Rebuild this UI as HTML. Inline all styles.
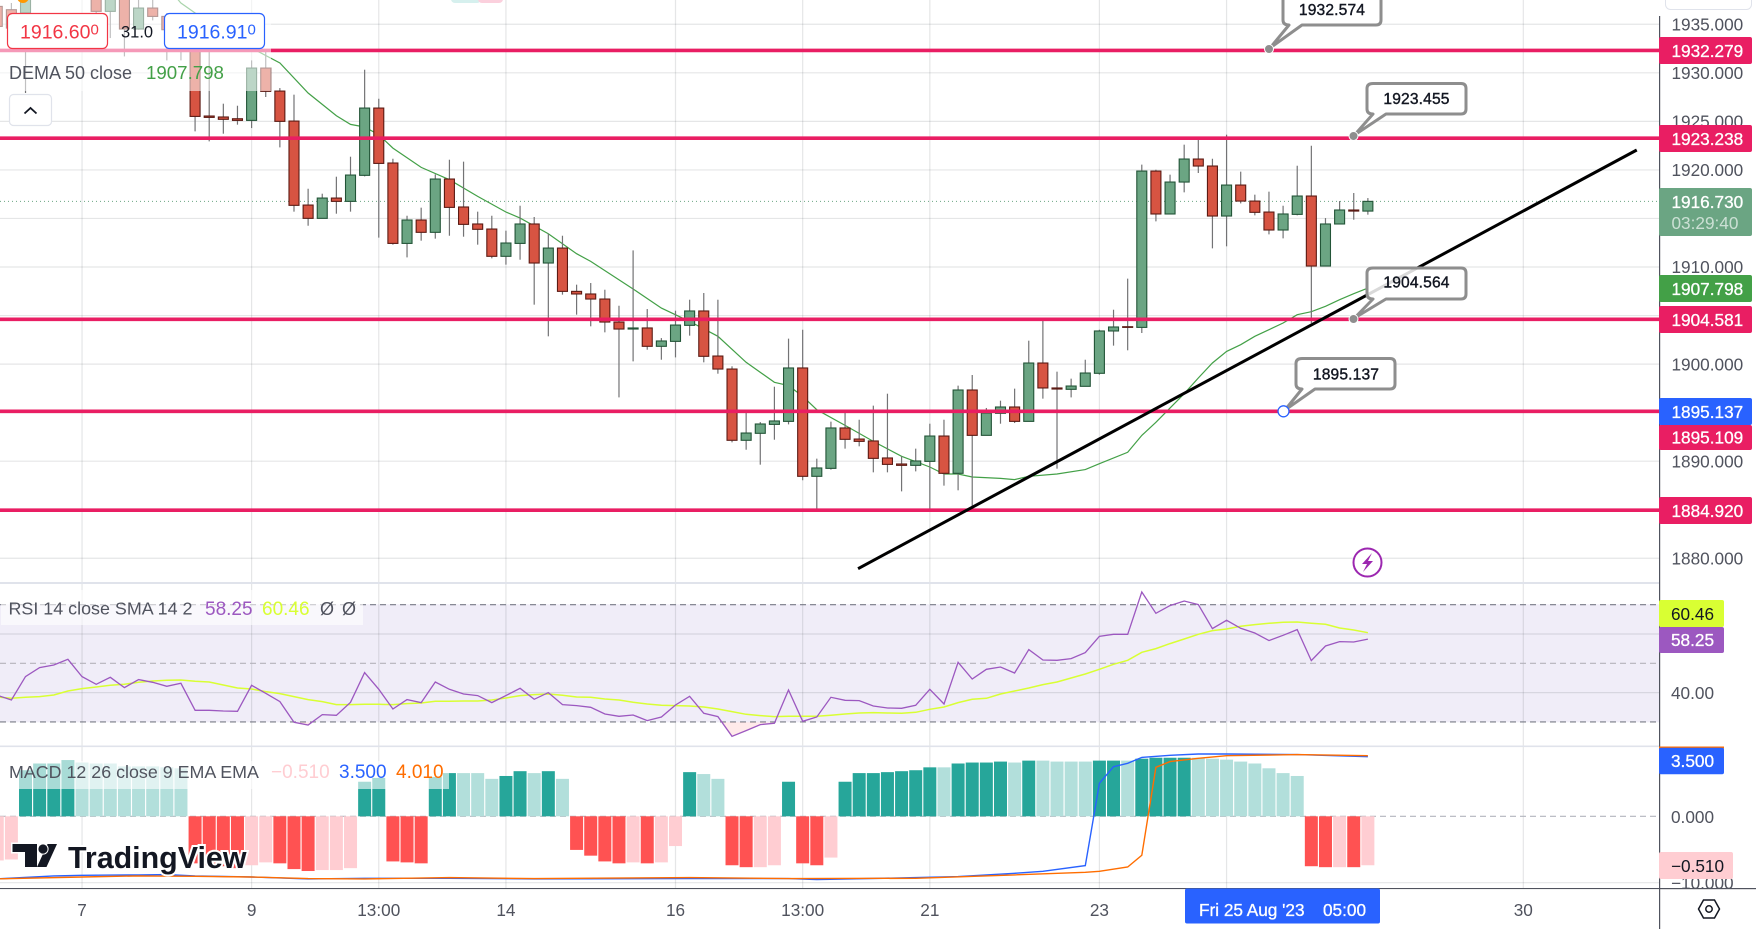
<!DOCTYPE html>
<html lang="en">
<head>
<meta charset="utf-8">
<title>Gold chart recreation</title>
<style>
html,body{margin:0;padding:0;background:#fff;width:1756px;height:929px;overflow:hidden}
svg{display:block;position:absolute;left:0;top:0}
text{font-family:"Liberation Sans",sans-serif;font-size:17.2px}
.callout-text{font-size:15.6px;letter-spacing:.15px;stroke:#131722;stroke-width:.4px}
.price-label{stroke:#fff;stroke-width:.3px}
</style>
</head>
<body>
<svg id="chart" width="1756" height="929" viewBox="0 0 1756 929" xmlns="http://www.w3.org/2000/svg">
<defs>
<clipPath id="mainClip"><rect x="0" y="0" width="1659" height="582"/></clipPath>
<clipPath id="rsiClip"><rect x="0" y="584" width="1659" height="162"/></clipPath>
<clipPath id="macdClip"><rect x="0" y="747" width="1659" height="141"/></clipPath>
<clipPath id="overSoldClip"><rect x="0" y="722.3" width="1659" height="24"/></clipPath>
</defs>
<rect width="1756" height="929" fill="#fff"/>
<rect x="0" y="604.3" width="1659" height="118" fill="#f0edf8"/>
<g id="grid"></g>
<g id="mainLayer" clip-path="url(#mainClip)"></g>
<g id="rsiLayer" clip-path="url(#rsiClip)"></g>
<g id="macdLayer" clip-path="url(#macdClip)"></g>

<!-- pane separators -->
<rect x="0" y="582" width="1756" height="2" fill="#e0e3eb"/>
<rect x="0" y="745.5" width="1756" height="1.6" fill="#e0e3eb"/>

<!-- logo -->
<g>
<path d="M12.5 844H37V867H25V852H12.5Z M57 844H47.5L37 867H46.5Z" fill="#131722" stroke="#fff" stroke-width="3" paint-order="stroke"/>
<circle cx="43" cy="849" r="4.6" fill="#131722" stroke="#fff" stroke-width="2" paint-order="stroke"/>
<text x="68" y="868" style="font-size:30.4px;font-weight:700" fill="#131722" stroke="#fff" stroke-width="4" paint-order="stroke">TradingView</text>
</g>

<!-- legend overlays -->
<rect x="0" y="0" width="271" height="91" fill="#fff" fill-opacity="0.55"/>
<rect x="1" y="590" width="362" height="35" fill="#fff" fill-opacity="0.6"/>
<rect x="0" y="761" width="449" height="28" fill="#fff" fill-opacity="0.6"/>

<!-- top strays -->
<circle cx="23" cy="-3" r="6" fill="#ff9800"/>
<rect x="451" y="-6" width="30" height="9" rx="4" fill="#d6f0ee"/>
<rect x="478" y="-6" width="25" height="9" rx="4" fill="#fbd0dd"/>

<!-- trade buttons -->
<rect x="7.5" y="13.5" width="100" height="35" rx="5" fill="#fff" stroke="#f23645" stroke-width="1.2"/>
<text x="20" y="38.5" style="font-size:19.5px" fill="#f23645">1916.60<tspan dy="-4" style="font-size:15px">0</tspan></text>
<text x="121" y="37.5" style="font-size:16.5px" fill="#131722">31.0</text>
<rect x="164.5" y="13.5" width="100" height="35" rx="5" fill="#fff" stroke="#2962ff" stroke-width="1.2"/>
<text x="177" y="38.5" style="font-size:19.5px" fill="#2962ff">1916.91<tspan dy="-4" style="font-size:15px">0</tspan></text>

<!-- legends -->
<text x="9" y="79" style="font-size:18px" fill="#50535e">DEMA 50 close</text>
<text x="146" y="79" style="font-size:18.7px" fill="#43a047">1907.798</text>
<rect x="9.5" y="94.5" width="42" height="31" rx="4" fill="#fff" stroke="#e0e3eb" stroke-width="1.2"/>
<path d="M24.5 113.5L30.5 108L36.5 113.5" fill="none" stroke="#131722" stroke-width="1.8"/>

<text x="8.5" y="614.5" style="font-size:17.9px" fill="#50535e">RSI 14 close SMA 14 2</text>
<text x="205" y="615" style="font-size:19px" fill="#9c58c0">58.25</text>
<text x="262" y="615" style="font-size:19px" fill="#d9ff33">60.46</text>
<text x="320" y="615" style="font-size:18px" fill="#50535e">Ø</text>
<text x="342" y="615" style="font-size:18px" fill="#50535e">Ø</text>

<text x="9" y="778" style="font-size:17.85px" fill="#50535e">MACD 12 26 close 9 EMA EMA</text>
<text x="271" y="778" style="font-size:19px" fill="#ffcdd2">−0.510</text>
<text x="339" y="778" style="font-size:19px" fill="#2962ff">3.500</text>
<text x="396" y="778" style="font-size:19px" fill="#ff6d00">4.010</text>

<!-- callouts -->
<g>
<g>
<path d="M1289 -6H1376Q1381 -6 1381 -1V20Q1381 25 1376 25H1302L1270 48L1289 25Q1283 25 1283 20V-1Q1283 -6 1289 -6Z" fill="#fff" stroke="#8e8e8e" stroke-width="3" stroke-linejoin="round"/>
<circle cx="1269" cy="49" r="4.5" fill="#8e8e8e" stroke="#fff"/>
<text x="1332" y="15" text-anchor="middle" fill="#131722" class="callout-text">1932.574</text>
</g>
<g>
<path d="M1373 83.5H1461Q1466 83.5 1466 88.5V109Q1466 114 1461 114H1386L1354.5 135L1373 114Q1367 114 1367 109V88.5Q1367 83.5 1373 83.5Z" fill="#fff" stroke="#8e8e8e" stroke-width="3" stroke-linejoin="round"/>
<circle cx="1353.5" cy="136" r="4.5" fill="#8e8e8e" stroke="#fff"/>
<text x="1416.5" y="104" text-anchor="middle" fill="#131722" class="callout-text">1923.455</text>
</g>
<g>
<path d="M1373 268H1461Q1466 268 1466 273V294Q1466 299 1461 299H1386L1354.5 318L1373 299Q1367 299 1367 294V273Q1367 268 1373 268Z" fill="#fff" fill-opacity="0.85" stroke="#8e8e8e" stroke-width="3" stroke-linejoin="round"/>
<circle cx="1353.5" cy="319" r="4.5" fill="#8e8e8e" stroke="#fff"/>
<text x="1416.5" y="287.5" text-anchor="middle" fill="#131722" class="callout-text">1904.564</text>
</g>
<g>
<path d="M1302 358.5H1390Q1395 358.5 1395 363.5V384Q1395 389 1390 389H1315L1285 410L1302 389Q1296 389 1296 384V363.5Q1296 358.5 1302 358.5Z" fill="#fff" stroke="#8e8e8e" stroke-width="3" stroke-linejoin="round"/>
<circle cx="1283.5" cy="411.3" r="5.5" fill="#fff" stroke="#2962ff" stroke-width="1.3"/>
<text x="1346" y="379.3" text-anchor="middle" fill="#131722" class="callout-text">1895.137</text>
</g>
</g>

<!-- alert icon -->
<g>
<circle cx="1367.5" cy="562.5" r="14" fill="#fff" stroke="#9c27b0" stroke-width="2"/>
<path d="M1372 553L1362 564H1367L1363 572L1373 561H1368Z" fill="#9c27b0"/>
</g>

<!-- axes -->
<rect x="1660" y="0" width="96" height="888" fill="#fff"/>
<rect x="1665.5" y="-8" width="86" height="17.5" rx="5" fill="#fff" stroke="#e0e3eb"/>
<g id="axisTicks"></g>
<rect x="1659" y="16" width="1.2" height="913" fill="#50535e"/>
<rect x="0" y="888" width="1756" height="1.2" fill="#50535e"/>
<rect x="0" y="889.2" width="1659" height="40" fill="#fff"/>
<g id="timeTicks"></g>

<!-- crosshair date -->
<rect x="1185" y="888.5" width="195" height="35" rx="2" fill="#2962ff"/>
<text x="1199" y="916" fill="#fff" class="price-label">Fri 25 Aug '23</text>
<text x="1323" y="916" fill="#fff" class="price-label">05:00</text>

<!-- price labels -->
<g>
<rect x="1659" y="37" width="93" height="27" rx="2" fill="#e91e63"/>
<text x="1671.5" y="57" fill="#fff" class="price-label">1932.279</text>
<rect x="1659" y="125" width="93" height="27" rx="2" fill="#e91e63"/>
<text x="1671.5" y="145" fill="#fff" class="price-label">1923.238</text>
<rect x="1659" y="188" width="93" height="48" rx="2" fill="#6ba583"/>
<text x="1671.5" y="208" fill="#fff" class="price-label">1916.730</text>
<text x="1671.5" y="229" fill="#fff" fill-opacity="0.65">03:29:40</text>
<rect x="1659" y="275" width="93" height="27" rx="2" fill="#43a047"/>
<text x="1671.5" y="295" fill="#fff" class="price-label">1907.798</text>
<rect x="1659" y="306" width="93" height="27" rx="2" fill="#e91e63"/>
<text x="1671.5" y="326" fill="#fff" class="price-label">1904.581</text>
<rect x="1659" y="425" width="93" height="25" rx="2" fill="#e91e63"/>
<text x="1671.5" y="443.5" fill="#fff" class="price-label">1895.109</text>
<rect x="1659" y="398" width="93" height="27" rx="2" fill="#2962ff"/>
<text x="1671.5" y="418" fill="#fff" class="price-label">1895.137</text>
<rect x="1659" y="497" width="93" height="27" rx="2" fill="#e91e63"/>
<text x="1671.5" y="517" fill="#fff" class="price-label">1884.920</text>

<rect x="1659" y="600" width="65" height="27" rx="2" fill="#d9ff33"/>
<text x="1671" y="620" fill="#131722">60.46</text>
<rect x="1659" y="627" width="65" height="26" rx="2" fill="#9c58c0"/>
<text x="1671" y="646" fill="#fff" class="price-label">58.25</text>

<rect x="1659" y="746.5" width="65" height="2" fill="#ff6d00"/>
<rect x="1659" y="747.7" width="65" height="26.5" rx="2" fill="#2962ff"/>
<text x="1671" y="767" fill="#fff" class="price-label">3.500</text>
<rect x="1659" y="852" width="74" height="27" rx="2" fill="#ffcdd2"/>
<text x="1671" y="872" fill="#131722">−0.510</text>
</g>

<!-- settings -->
<g fill="none" stroke="#131722" stroke-width="1.5">
<path d="M1698.5 909L1703.5 900H1714.5L1719.5 909L1714.5 918H1703.5Z"/>
<circle cx="1709" cy="909" r="3.2"/>
</g>
</svg>

<script>
// Chart data. Bars are numbered so that bar 0 sits on the "9" time tick.
const firstBar = -18;
const opens = [1936.81,1936.47,1936.13,1940,1939,1940,1939.2,1938.53,1936.30,1939.56,
1934.48,1936.64,1935.78,1934.41,1933.21,1925.52,1925.42,1925.24,1925.07,1930.46,
1928.09,1925.00,1916.35,1914.98,1917.07,1916.73,1919.41,1926.34,1920.68,1912.40,
1914.81,1913.54,1919.03,1916.15,1914.40,1913.88,1911.07,1912.40,1914.40,1910.38,
1911.92,1907.46,1907.19,1906.67,1904.30,1903.58,1903.69,1901.80,1902.31,1903.96,
1905.44,1900.80,1899.46,1892.12,1892.84,1893.76,1894.07,1899.57,1888.41,1889.23,
1893.39,1892.25,1892.05,1890.30,1889.68,1889.54,1889.95,1892.56,1888.72,1897.30,
1892.63,1894.90,1895.55,1894.07,1900.08,1897.51,1897.37,1897.68,1899.02,1903.38,
1903.82,1903.75,1919.85,1915.43,1918.72,1921.09,1920.37,1915.22,1918.41,1916.76,
1915.63,1913.78,1915.39,1917.28,1910.07,1914.40,1915.84,1915.73];
const highs = [1937.16,1937.16,1938.87,1941,1941,1941,1941,1938.87,1938.87,1939.90,
1937.50,1937.50,1936.13,1934.75,1933.55,1932.35,1926.79,1926.58,1931.25,1932.35,
1928.40,1927.72,1918.03,1917.52,1919.27,1921.33,1930.29,1927.30,1921.12,1915.25,
1916.08,1919.51,1921.02,1920.82,1915.67,1915.25,1913.71,1916.28,1915.12,1913.40,
1913.19,1908.15,1908.32,1907.63,1905.98,1911.68,1905.64,1902.65,1905.47,1906.60,
1907.29,1906.60,1899.74,1895.00,1894.00,1897.64,1902.59,1903.51,1890.23,1894.04,
1895.27,1894.24,1895.69,1896.92,1890.47,1891.26,1893.83,1894.24,1897.75,1898.84,
1895.45,1896.20,1897.44,1902.38,1904.61,1899.19,1898.47,1900.42,1903.51,1905.57,
1908.77,1920.51,1919.99,1919.48,1922.57,1923.15,1921.12,1923.60,1919.79,1917.42,
1917.73,1916.28,1920.40,1922.46,1915.01,1916.76,1917.59,1917.07];
const lows = [1934.41,1932.52,1927.89,1938.6,1938.5,1938.5,1938.5,1936.13,1933.55,1931.66,
1934.41,1935.37,1931.25,1931.25,1923.94,1922.91,1923.70,1924.63,1924.28,1927.48,
1922.29,1915.67,1914.22,1914.98,1915.46,1915.67,1919.30,1912.99,1912.27,1910.96,
1912.68,1912.89,1913.19,1913.09,1912.27,1910.86,1910.21,1910.72,1906.09,1902.83,
1907.12,1905.06,1903.86,1903.24,1896.54,1900.25,1901.45,1900.42,1900.66,1902.90,
1900.15,1898.98,1891.91,1891.15,1889.61,1892.18,1893.76,1888.00,1885.04,1889.10,
1891.26,1891.50,1888.82,1888.82,1886.86,1888.92,1885.04,1887.45,1886.97,1885.15,
1892.63,1893.83,1893.90,1894.07,1896.41,1889.20,1896.54,1897.68,1898.88,1901.87,
1901.39,1903.17,1914.67,1915.43,1917.66,1919.65,1911.89,1912.10,1916.52,1915.29,
1913.33,1912.92,1915.29,1904.20,1910.07,1914.40,1914.84,1915.36];
const closes = [1934.75,1934.58,1938.19,1939,1940,1939.2,1940.2,1936.30,1938.53,1934.48,
1936.64,1935.78,1934.41,1933.21,1925.48,1925.38,1925.18,1925.07,1930.46,1928.06,
1924.97,1916.32,1914.98,1917.07,1916.73,1919.44,1926.34,1920.64,1912.40,1914.81,
1913.54,1919.03,1916.11,1914.36,1913.85,1911.07,1912.44,1914.40,1910.38,1911.92,
1907.46,1907.19,1906.67,1904.30,1903.58,1903.69,1901.80,1902.35,1903.99,1905.44,
1900.77,1899.46,1892.12,1892.87,1893.80,1894.11,1899.57,1888.41,1889.27,1893.39,
1892.22,1892.01,1890.26,1889.64,1889.54,1889.99,1892.56,1888.72,1897.30,1892.63,
1894.93,1895.55,1894.07,1900.08,1897.51,1897.40,1897.71,1899.05,1903.38,1903.79,
1903.75,1919.85,1915.43,1918.72,1921.09,1920.37,1915.22,1918.41,1916.76,1915.60,
1913.78,1915.43,1917.28,1910.07,1914.40,1915.84,1915.73,1916.73];

const demaBars = [-6,-5,-4,0,2,4,6,7,8,9,10,12,14,16,18,19,21,23,24,27,29,31,33,35,37,38,39,40,42,44,46,48,49,50,51,53,54,55,57,59,60,62,63,64,66,67,68,69,70,71,72,73,74,75,76,77,78,79];
const demaValues = [1938.87,1937.16,1936.13,1932.52,1930.98,1927.89,1925.55,1924.66,1924.39,1923.60,1922.22,1920.23,1918.96,1917.24,1915.63,1915.01,1913.40,1911.34,1910.55,1907.70,1905.74,1904.37,1902.83,1900.15,1898.09,1897.75,1896.65,1895.27,1893.66,1892.01,1890.47,1889.37,1888.65,1888.65,1888.34,1888.20,1888.07,1888.41,1888.65,1889.10,1889.71,1890.88,1892.63,1893.97,1896.92,1898.54,1900.08,1901.28,1901.97,1902.83,1903.51,1904.20,1905.06,1905.37,1905.92,1906.60,1907.22,1907.80];

const horizontalLevels = [1932.279,1923.238,1904.581,1895.109,1884.920];
const lastPrice = 1916.73;
const priceTicks = [1935,1930,1925,1920,1915,1910,1905,1900,1895,1890,1885,1880];
const timeTickLabels = ['7','9','13:00','14','16','13:00','21','23','25','30'];
const timeTickBars = [-12,0,9,18,30,39,48,60,69,90];
const trendBars = [42.92,98.03];
const trendPrices = [1878.9,1922.02];

const rsiValues = [39.08,37.49,45.45,48.52,49.43,51.37,45.45,42.83,45.22,41.70,44.43,43.52,42.15,43.17,33.96,33.96,33.73,33.62,42.49,39.76,36.92,29.86,28.95,32.48,32.25,36.69,46.81,41.13,34.41,37.60,36.58,43.63,41.13,39.53,38.96,36.58,38.96,41.47,37.71,39.99,35.89,35.55,34.98,
32.71,31.91,32.37,30.43,31.68,35.78,38.74,32.94,31.80,25.09,27.02,29.07,29.52,40.90,30.20,31.68,38.40,37.37,37.26,35.44,34.76,34.64,35.67,41.13,36.12,50.34,44.65,47.95,48.75,46.70,54.66,51.14,51.02,51.59,53.64,59.21,59.90,59.90,74.35,67.06,69.68,71.27,70.02,61.83,64.68,61.95,60.35,57.74,59.56,61.49,50.91,55.92,57.39,57.28,58.25];
const rsiSmaValues = [38.51,38.05,38.40,38.62,39.19,40.56,41.35,41.92,42.49,42.83,43.52,43.97,44.20,44.31,43.86,43.63,42.61,41.58,41.24,40.33,39.65,38.62,37.60,36.92,35.89,35.89,36.01,36.01,35.89,36.23,36.46,37.03,37.03,37.14,37.14,37.49,38.17,38.96,39.31,39.53,39.08,38.51,38.40,
37.83,37.49,36.69,36.12,35.67,35.55,35.44,35.10,34.41,33.50,32.59,32.14,31.80,31.91,31.91,31.91,32.25,32.71,33.05,33.16,33.05,32.94,33.28,34.30,35.10,36.58,37.71,38.05,39.53,40.56,41.58,42.72,43.63,44.99,46.36,47.95,49.66,51.02,53.75,55.01,56.71,58.30,59.90,61.15,61.72,62.63,63.20,63.65,63.99,64.11,63.65,63.31,62.06,61.38,60.46];
const rsiLevels = [70,50,30];
const rsiGridTicks = [60,40];
const rsiTickLabels = ['40.00'];
const rsiTickValues = [40];

const histValues = [-.46,-.45,.48,.55,.55,.58,.56,.55,.55,.52,.52,.52,.51,.50,
-.49,-.51,-.52,-.54,-.51,-.48,-.49,-.55,-.57,-.56,-.56,-.54,
.36,.40,-.47,-.48,-.49,.41,.45,.45,.45,.39,.42,.47,.45,.47,.39,
-.35,-.41,-.47,-.49,-.48,-.49,-.48,-.31,
.46,.44,.39,-.51,-.53,-.53,-.51,.36,-.49,-.51,-.43,.36,.45,.45,.46,.47,.48,.51,.51,.55,.56,.56,.57,.56,.58,.58,.57,.57,.57,.58,.58,.58,.60,.61,.61,.61,.61,.60,.59,.57,.55,.50,.45,.42,-.52,-.53,-.53,-.53,-.51];
const histFadedBars = [-18,-17,-12,-11,-10,-9,-8,-7,-6,-5,0,1,5,6,7,15,16,17,20,22,27,29,30,32,33,36,37,41,49,54,56,57,58,59,62,67,68,69,70,71,72,73,74,77,79];
const macdBars = [-18,-14,-12,-8,-6,-4,0,4,8,14,20,31,38,40,47,50,54,56,59,60,61,62,63,65,67,69,74,79];
const macdValues = [-9.60,-9.28,-9.21,-9.17,-9.14,-9.28,-9.39,-9.60,-9.53,-9.53,-9.60,-9.57,-9.57,-9.67,-9.46,-9.35,-9.00,-8.78,-8.17,0.65,2.43,2.79,3.43,3.65,3.79,3.79,3.72,3.50];
const signalBars = [-18,-12,-8,-4,0,4,8,14,20,31,38,47,54,59,60,62,63,64,65,67,69,74,79];
const signalValues = [-9.60,-9.39,-9.28,-9.32,-9.39,-9.57,-9.60,-9.46,-9.57,-9.46,-9.57,-9.53,-9.17,-8.89,-8.78,-8.32,-7.07,2.36,2.97,3.33,3.61,3.72,3.61];
const macdTickLabels = ['0.000','−10.000'];
const macdTickValues = [0,-10];

// Axis functions
function xOf(bar){ return 251.6 + 14.13 * bar; }
function yPrice(p){ return (1937.47 - p) * 9.709; }
function yRsi(r){ return 663.3 - (r - 50) * 2.93; }
function yHist(h){ return 816.3 - h * 96; }
function yMacdLine(v){ return 756.7 + (3.5 - v) * 9.33; }
function yMacdTick(v){ return 816.3 - v * 6.64; }

const NS = 'http://www.w3.org/2000/svg';
function make(tag, parent, attrs){
  const el = document.createElementNS(NS, tag);
  for (const k in attrs) el.setAttribute(k, attrs[k]);
  parent.appendChild(el);
  return el;
}
const grid = document.getElementById('grid');
const main = document.getElementById('mainLayer');
const rsiLayer = document.getElementById('rsiLayer');
const macdLayer = document.getElementById('macdLayer');
const axisTicks = document.getElementById('axisTicks');
const timeTicks = document.getElementById('timeTicks');
const gridStroke = 'rgba(42,46,57,0.12)';

// vertical grid and time labels
timeTickBars.forEach(function(b, i){
  if (timeTickLabels[i] !== '25') {
    const t = make('text', timeTicks, {x: xOf(b), y: 916, 'text-anchor': 'middle', fill: '#50535e'});
    t.textContent = timeTickLabels[i];
    
    
  }
  const l = make('line', grid, {x1: xOf(b), x2: xOf(b), y1: 0, y2: 888, stroke: gridStroke, 'stroke-width': 1.2});
  
  
});

// horizontal grid and price ticks
priceTicks.forEach(function(p){
  const l = make('line', grid, {x1: 0, x2: 1659, y1: yPrice(p) + .3, y2: yPrice(p) + .3, stroke: gridStroke, 'stroke-width': 1.2});
  
  
  const t = make('text', axisTicks, {x: 1671.5, y: yPrice(p) + 6.5, fill: '#50535e'});
  t.textContent = p.toFixed(3);
  
  
});
rsiGridTicks.forEach(function(r){
  const l = make('line', grid, {x1: 0, x2: 1659, y1: yRsi(r), y2: yRsi(r), stroke: gridStroke, 'stroke-width': 1.2});
  
  
});
rsiLevels.forEach(function(r){
  const l = make('line', grid, {x1: 0, x2: 1659, y1: yRsi(r), y2: yRsi(r), stroke: r === 50 ? '#b4b2bb' : '#787b86', 'stroke-width': 1.1, 'stroke-dasharray': '6 4'});
  
  
});
rsiTickValues.forEach(function(v, i){
  const t = make('text', axisTicks, {x: 1671, y: yRsi(v) + 6.5, fill: '#50535e'});
  t.textContent = rsiTickLabels[i];
  
  
});
macdTickValues.forEach(function(v, i){
  const t = make('text', axisTicks, {x: 1671, y: yMacdTick(v) + 6.5, fill: '#50535e'});
  t.textContent = macdTickLabels[i];
  
  
  const l = make('line', grid, {x1: 0, x2: 1659, y1: yMacdTick(v), y2: yMacdTick(v), stroke: v === 0 ? '#b2b5be' : gridStroke, 'stroke-width': 1.1, 'stroke-dasharray': v === 0 ? '6 4' : 'none'});
  
  
});

// last price line
const lastLine = make('line', main, {x1: 0, x2: 1659, y1: yPrice(lastPrice), y2: yPrice(lastPrice), stroke: '#6ba583', 'stroke-width': 1, 'stroke-dasharray': '1 3'});



// DEMA
const demaPts = demaBars.map(function(b, i){ return xOf(b).toFixed(1) + ',' + yPrice(demaValues[i]).toFixed(1); }).join(' ');
const demaLine = make('polyline', main, {points: demaPts, fill: 'none', stroke: '#43a047', 'stroke-width': 1.2});



// Candles
opens.forEach(function(o, i){
  const c = closes[i];
  const x = xOf(firstBar + i);
  const up = c >= o;
  const g = make('g', main, {});
  
  
  make('line', g, {x1: x, x2: x, y1: yPrice(highs[i]), y2: yPrice(lows[i]), stroke: '#737375', 'stroke-width': 1.2});
  const top = yPrice(Math.max(o, c));
  const bot = yPrice(Math.min(o, c));
  make('rect', g, {x: x - 5, y: top, width: 10, height: Math.max(bot - top, .6), fill: up ? '#6ba583' : '#d75442', stroke: up ? '#225437' : '#5b1a13', 'stroke-width': 1.1});
});

// Horizontal levels
horizontalLevels.forEach(function(p){
  const l = make('line', main, {x1: 0, x2: 1659, y1: yPrice(p), y2: yPrice(p), stroke: '#e91e63', 'stroke-width': 3.6});
  
  
});

// Trend line
const trend = make('line', main, {x1: xOf(trendBars[0]), y1: yPrice(trendPrices[0]), x2: xOf(trendBars[1]), y2: yPrice(trendPrices[1]), stroke: '#000', 'stroke-width': 3});



// RSI
const rsiPts = rsiValues.map(function(v, i){ return xOf(firstBar + i).toFixed(1) + ',' + yRsi(v).toFixed(1); });
const fillPath = make('polygon', rsiLayer, {points: xOf(firstBar) + ',' + yRsi(30) + ' ' + rsiPts.join(' ') + ' ' + xOf(firstBar + rsiValues.length - 1) + ',' + yRsi(30), fill: 'rgba(255,82,82,0.12)', 'clip-path': 'url(#overSoldClip)'});


const smaLine = make('polyline', rsiLayer, {points: rsiSmaValues.map(function(v, i){ return xOf(firstBar + i).toFixed(1) + ',' + yRsi(v).toFixed(1); }).join(' '), fill: 'none', stroke: '#d9ff33', 'stroke-width': 1.5});


const rsiLine = make('polyline', rsiLayer, {points: rsiPts.join(' '), fill: 'none', stroke: '#9c58c0', 'stroke-width': 1.3});



// MACD histogram
histValues.forEach(function(h, i){
  const bar = firstBar + i;
  const faded = histFadedBars.indexOf(bar) >= 0;
  const y0 = yHist(0);
  const y1 = yHist(h);
  const color = h >= 0 ? (faded ? '#b2dfdb' : '#26a69a') : (faded ? '#ffcdd2' : '#ff5252');
  const r = make('rect', macdLayer, {x: xOf(bar) - 6.5, y: Math.min(y0, y1), width: 13, height: Math.abs(y1 - y0), fill: color});
  
  
});
const macdLine = make('polyline', macdLayer, {points: macdBars.map(function(b, i){ return xOf(b).toFixed(1) + ',' + yMacdLine(macdValues[i]).toFixed(1); }).join(' '), fill: 'none', stroke: '#2962ff', 'stroke-width': 1.4});


const signalLine = make('polyline', macdLayer, {points: signalBars.map(function(b, i){ return xOf(b).toFixed(1) + ',' + yMacdLine(signalValues[i]).toFixed(1); }).join(' '), fill: 'none', stroke: '#ff6d00', 'stroke-width': 1.4});


</script>
</body>
</html>
